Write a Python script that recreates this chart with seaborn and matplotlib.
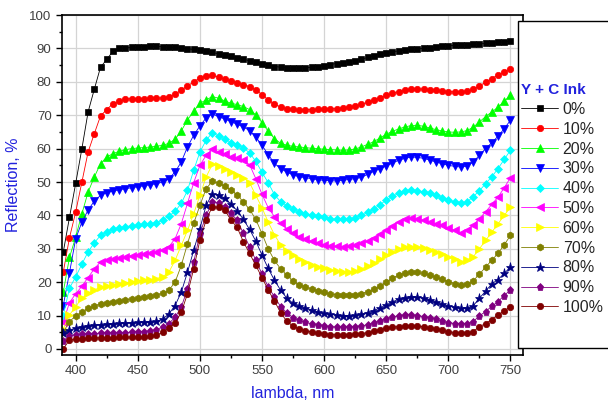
import matplotlib
matplotlib.use("Agg")
import matplotlib.pyplot as plt
import numpy as np
import pandas as pd
import seaborn as sns
from matplotlib.patches import Rectangle
from matplotlib.ticker import MultipleLocator

sns.set_style("white")
plt.rcParams['font.family'] = ['Liberation Sans', 'DejaVu Sans']

wavelength = list(range(390, 755, 5))

r_0 = [29, 39.4, 49.6, 60, 71, 77.8, 84.4, 86.7, 89.2, 90.0,
       90.2, 90.3, 90.4, 90.5, 90.6, 90.6, 90.5, 90.4, 90.3, 90.1,
       89.9, 89.7, 89.5, 89.2, 88.8, 88.4, 88.0, 87.6, 87.2, 86.8,
       86.3, 85.9, 85.4, 85.0, 84.6, 84.4, 84.2, 84.1, 84.1, 84.2,
       84.4, 84.6, 84.9, 85.2, 85.5, 85.8, 86.1, 86.4, 86.8, 87.3,
       87.8, 88.3, 88.7, 89.0, 89.3, 89.5, 89.7, 89.9, 90.0, 90.2,
       90.4, 90.6, 90.8, 90.9, 91.0, 91.1, 91.2, 91.4, 91.5, 91.6,
       91.8, 92.0, 92.2]
r_10 = [23, 33.3, 41, 50, 59, 64.5, 69.8, 71.7, 73.5, 74.2,
        74.8, 75.0, 75.0, 75.0, 75.1, 75.1, 75.2, 75.6, 76.3, 77.5,
        78.8, 80.0, 81.2, 81.8, 82.0, 81.4, 80.8, 80.3, 79.8, 79.2,
        78.6, 77.6, 76.2, 74.6, 73.3, 72.5, 72.0, 71.8, 71.7, 71.7,
        71.7, 71.8, 71.8, 71.9, 72.0, 72.2, 72.5, 72.8, 73.3, 73.9,
        74.6, 75.3, 76.0, 76.6, 77.1, 77.5, 77.8, 77.9, 77.8, 77.7,
        77.5, 77.3, 77.1, 77.0, 77.0, 77.2, 77.8, 78.8, 79.9, 81.0,
        82.1, 83.0, 84.0]
r_20 = [17, 27.4, 33.5, 40.5, 47, 51.5, 55.5, 57.5, 58.5, 59.2,
        59.7, 60.0, 60.2, 60.3, 60.5, 60.7, 61.0, 61.6, 62.8, 65.3,
        68.6, 71.2, 73.6, 74.6, 75.6, 75.1, 74.3, 73.6, 73.2, 72.6,
        71.7, 70.1, 67.8, 65.2, 63.0, 61.6, 61.0, 60.7, 60.5, 60.3,
        60.1, 60.0, 59.8, 59.7, 59.6, 59.5, 59.6, 59.9, 60.5, 61.3,
        62.1, 63.2, 64.3, 65.2, 65.9, 66.5, 66.9, 67.0, 66.7, 66.2,
        65.7, 65.3, 65.0, 64.9, 65.0, 65.4, 66.4, 68.0, 69.6, 71.0,
        72.4, 74.2, 76.0]
r_30 = [13, 22.8, 33.0, 38.0, 41.6, 44.3, 46.0, 46.8, 47.3, 47.7,
        48.0, 48.3, 48.6, 48.9, 49.2, 49.5, 50.0, 51.0, 53.0, 56.0,
        60.5, 64.0, 66.8, 69.2, 70.4, 69.6, 68.9, 68.1, 67.3, 66.5,
        65.4, 63.5, 61.0, 58.2, 55.6, 54.0, 53.0, 52.1, 51.6, 51.3,
        51.0, 50.7, 50.5, 50.4, 50.3, 50.5, 50.8, 51.0, 51.4, 52.3,
        53.2, 54.0, 54.8, 55.7, 56.5, 57.1, 57.5, 57.4, 57.1, 56.6,
        56.0, 55.5, 55.0, 54.7, 54.5, 54.8, 56.0, 58.0, 60.0, 61.8,
        63.7, 66.0, 68.5]
r_40 = [10, 18.2, 21.6, 25.4, 29.1, 31.8, 34.0, 35.0, 35.8, 36.3,
        36.6, 36.9, 37.1, 37.3, 37.5, 37.8, 38.6, 39.8, 41.2, 43.6,
        47.5, 53.5, 59.0, 62.5, 64.8, 63.8, 62.9, 61.8, 61.2, 60.3,
        58.7, 56.2, 52.9, 49.8, 46.2, 44.1, 42.9, 41.8, 41.0, 40.3,
        40.0, 39.7, 39.4, 39.0, 38.8, 38.8, 38.9, 39.3, 40.0, 40.9,
        41.9, 43.2, 44.6, 45.7, 46.6, 47.3, 47.6, 47.4, 47.1, 46.6,
        46.0, 45.3, 44.6, 44.0, 43.6, 44.0, 45.6, 47.4, 49.5, 51.6,
        54.0, 56.8, 59.5]
r_50 = [8, 13.9, 16.5, 18.8, 21.4, 24.0, 26.1, 26.6, 26.9, 27.3,
        27.6, 27.9, 28.1, 28.4, 28.6, 29.1, 29.6, 30.6, 33.0, 37.5,
        43.6, 49.8, 55.0, 58.0, 59.8, 59.1, 58.3, 57.6, 57.1, 56.5,
        55.2, 51.0, 46.3, 42.3, 39.6, 37.6, 36.0, 34.6, 33.6, 32.8,
        32.2, 31.6, 31.2, 30.9, 30.7, 30.6, 30.7, 31.0, 31.6, 32.3,
        33.2, 34.4, 35.6, 36.9, 38.1, 38.8, 39.1, 38.9, 38.5, 38.0,
        37.5, 37.0, 36.2, 35.5, 34.8, 35.6, 37.1, 39.0, 41.1, 43.3,
        45.5, 48.3, 51.3]
r_60 = [6, 10.2, 12.7, 15.2, 16.7, 17.7, 18.5, 18.8, 19.1, 19.6,
        19.8, 20.1, 20.4, 20.6, 20.8, 21.1, 21.6, 23.0, 26.5, 31.0,
        35.5, 40.5, 46.0, 51.5, 55.3, 54.8, 53.9, 53.0, 52.2, 51.3,
        49.8, 46.0, 42.3, 38.0, 34.2, 31.2, 29.3, 28.0, 26.8, 25.9,
        25.2, 24.6, 24.1, 23.6, 23.3, 23.1, 23.1, 23.4, 24.0, 24.8,
        25.7, 26.8, 28.0, 29.1, 30.0, 30.5, 30.6, 30.4, 30.1, 29.6,
        29.0, 28.4, 27.6, 26.8, 26.1, 26.7, 27.6, 30.0, 32.5, 35.0,
        37.5, 40.0, 42.5]
r_70 = [5, 8.2, 9.9, 11.2, 12.2, 12.9, 13.5, 13.9, 14.2, 14.5,
        14.7, 15.0, 15.2, 15.5, 15.8, 16.2, 16.7, 17.6, 20.0, 25.0,
        31.5, 37.6, 43.0, 48.0, 50.2, 49.6, 48.7, 47.6, 46.2, 44.0,
        41.8, 38.8, 34.5, 30.0, 26.5, 24.0, 22.1, 20.4, 19.3, 18.6,
        18.0, 17.5, 17.0, 16.5, 16.2, 16.1, 16.1, 16.3, 16.6, 17.2,
        18.0, 19.0, 20.1, 21.2, 22.2, 22.8, 23.1, 22.9, 22.6, 22.1,
        21.5, 20.9, 20.2, 19.6, 19.1, 19.6, 20.4, 22.4, 24.5, 26.6,
        28.6, 31.2, 34.0]
r_80 = [4.9, 5.7, 6.2, 6.7, 7.0, 7.2, 7.3, 7.5, 7.6, 7.7,
        7.8, 7.9, 8.0, 8.1, 8.2, 8.3, 8.9, 10.5, 13.0, 17.0,
        23.0, 29.5, 36.0, 43.0, 46.4, 46.2, 45.2, 43.4, 41.4, 38.8,
        35.8, 32.3, 28.1, 24.1, 20.6, 17.6, 15.2, 13.7, 13.0, 12.3,
        11.6, 11.1, 10.7, 10.4, 10.2, 10.0, 9.9, 10.1, 10.4, 10.9,
        11.5, 12.3, 13.2, 14.1, 14.9, 15.4, 15.7, 15.5, 15.2, 14.8,
        14.2, 13.6, 12.9, 12.5, 12.2, 12.3, 12.9, 15.2, 17.3, 19.5,
        20.8, 22.6, 24.6]
r_90 = [2.5, 3.9, 4.2, 4.4, 4.5, 4.6, 4.7, 4.8, 4.8, 4.9,
        4.9, 5.0, 5.1, 5.2, 5.4, 5.8, 6.6, 7.6, 9.5, 12.5,
        18.0, 26.0, 34.5, 40.0, 44.0, 43.7, 42.6, 40.6, 38.6, 34.6,
        30.6, 26.6, 22.4, 18.6, 15.6, 12.7, 10.8, 9.4, 8.6, 8.0,
        7.5, 7.1, 6.8, 6.6, 6.5, 6.5, 6.5, 6.6, 6.8, 7.3,
        7.8, 8.5, 9.1, 9.6, 9.9, 10.1, 10.2, 10.0, 9.7, 9.3,
        8.9, 8.4, 7.9, 7.6, 7.5, 7.6, 8.2, 9.9, 11.2, 12.8,
        14.2, 16.0, 17.7]
r_100 = [0.0, 2.7, 2.9, 3.1, 3.2, 3.3, 3.3, 3.4, 3.4, 3.5,
         3.5, 3.6, 3.6, 3.7, 3.8, 4.1, 5.0, 6.2, 7.7, 11.0,
         16.5, 24.0, 32.6, 38.6, 42.6, 42.4, 41.6, 38.6, 36.4, 32.1,
         28.6, 25.0, 21.4, 17.6, 14.4, 10.8, 8.3, 6.8, 6.0, 5.5,
         5.1, 4.8, 4.5, 4.3, 4.2, 4.2, 4.2, 4.4, 4.6, 4.9,
         5.3, 5.8, 6.2, 6.5, 6.7, 6.9, 6.9, 6.8, 6.7, 6.4,
         6.0, 5.6, 5.2, 4.9, 4.7, 4.8, 5.2, 6.7, 7.6, 8.8,
         10.2, 11.4, 12.7]

labels = ['0%', '10%', '20%', '30%', '40%', '50%', '60%', '70%', '80%', '90%', '100%']
series = [r_0, r_10, r_20, r_30, r_40, r_50, r_60, r_70, r_80, r_90, r_100]
colors = ['#000000', '#ff0000', '#00ff00', '#0000ff', '#00ffff', '#ff00ff',
          '#ffff00', '#808000', '#000080', '#800080', '#800000']
markers = ['s', 'o', '^', 'v', 'D', '<', '>', 'h', '*', 'p', 'o']
msizes = [4.2, 4.6, 5.2, 5.2, 4.2, 5.2, 5.2, 5.0, 6.5, 5.2, 4.6]

fig = plt.figure(figsize=(6.08, 4.08), dpi=100)
ax = fig.add_axes([0.102, 0.130, 0.758, 0.833])

for lab, vals, col, mk, ms in zip(labels, series, colors, markers, msizes):
    sns.lineplot(x=wavelength, y=vals, ax=ax, color=col, marker=mk,
                 markersize=ms, markeredgecolor=col, markeredgewidth=0.5,
                 linewidth=0.6, label=lab, legend=False)

ax.set_xlim(389, 760)
ax.set_ylim(-1.8, 100)
ax.xaxis.set_major_locator(MultipleLocator(50))
ax.xaxis.set_minor_locator(MultipleLocator(25))
ax.yaxis.set_major_locator(MultipleLocator(10))
ax.yaxis.set_minor_locator(MultipleLocator(5))
ax.grid(True, which='major', color='#d4d4d4', linewidth=0.9)
ax.set_axisbelow(True)
for s in ax.spines.values():
    s.set_color('black')
    s.set_linewidth(1.2)
ax.tick_params(which='both', direction='out', bottom=True, left=True,
               top=False, right=False, colors='black', labelcolor='#404040',
               labelsize=9.5, width=1)
ax.tick_params(which='major', length=4)
ax.tick_params(which='minor', length=2.5)

ax.set_xlabel('lambda, nm', color='#2222dd', fontsize=11.5, labelpad=6)
ax.set_ylabel('Reflection, %', color='#2222dd', fontsize=11.5, labelpad=6)

# legend box sticking out of the figure on the right
fig.patches.append(Rectangle((518 / 608, 1 - 348 / 408), 0.3, (348 - 21) / 408,
                             transform=fig.transFigure, facecolor='white',
                             edgecolor='black', linewidth=1.0, zorder=5))

handles, labs = ax.get_legend_handles_labels()
leg = fig.legend(handles, labs, loc='upper left',
                 bbox_to_anchor=(518 / 608, 1 - 80 / 408),
                 frameon=False, fontsize=11.5, title='Y + C Ink',
                 title_fontproperties={'weight': 'bold', 'size': 11},
                 alignment='left', handlelength=2.3, handletextpad=0.3,
                 labelspacing=0.3, borderaxespad=0, borderpad=0.2)
leg.get_title().set_color('#2222dd')
leg.set_zorder(6)

fig.savefig('out.png', dpi=100)
